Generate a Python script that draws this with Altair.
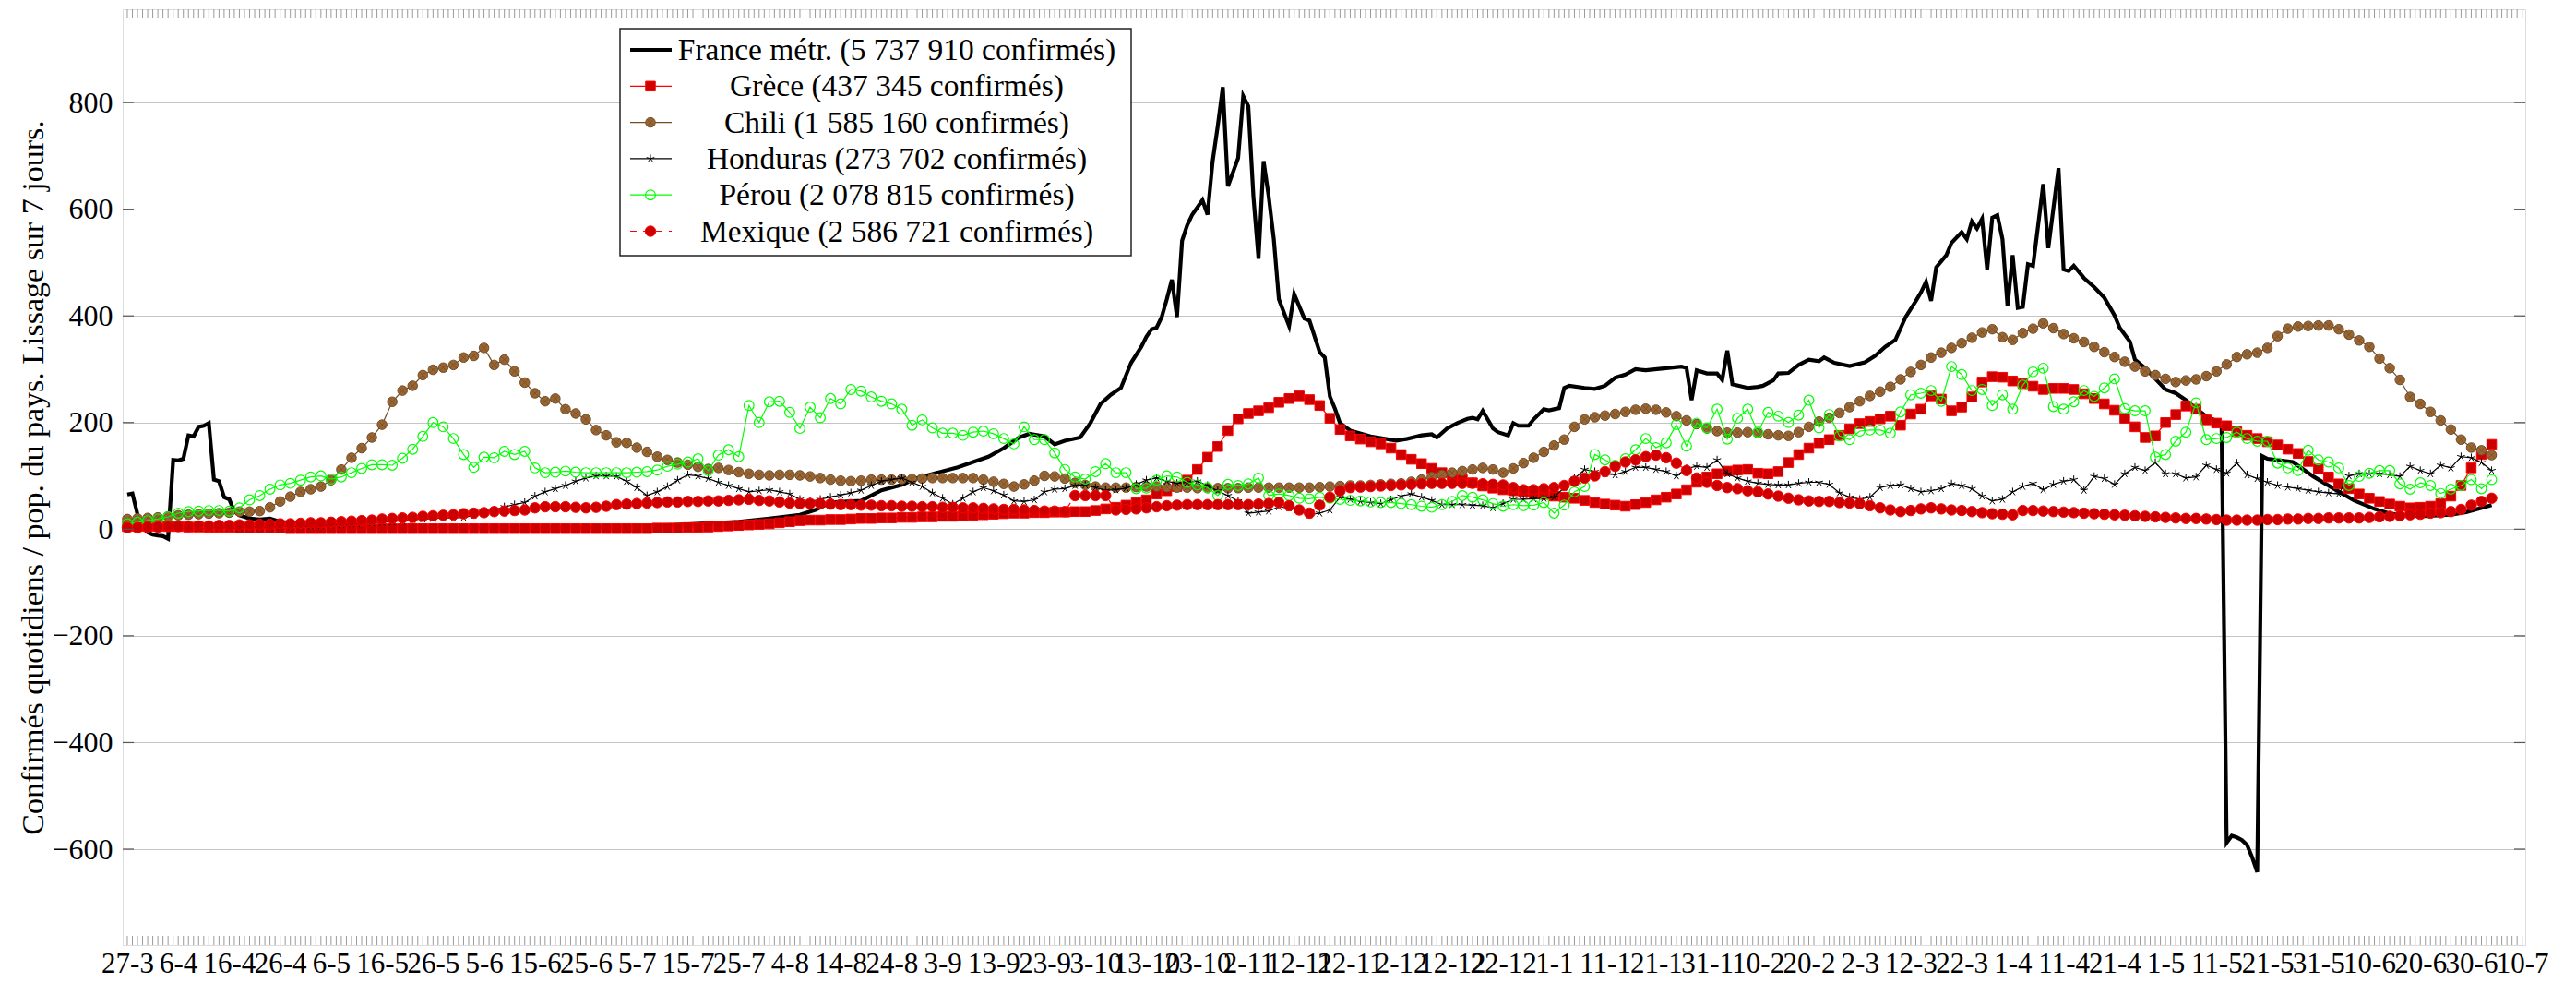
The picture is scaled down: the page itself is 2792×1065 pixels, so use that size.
import altair as alt
import pandas as pd

# ---------------- data ----------------
# marker series: one value every 2 days, day 0 = 27-3
days = list(range(0, 465, 2))

grece = [5,5,5,5,5,5,4,4,3,3,
         3,2,2,2,2,2,1,1,1,1,
         1,1,1,1,1,1,1,1,1,1,
         1,1,1,1,1,1,1,1,1,1,
         1,1,1,1,1,1,1,1,1,1,
         1,1,2,2,2,3,3,4,5,6,
         7,8,9,10,12,14,16,17,17,18,
         18,19,20,20,21,21,22,22,23,23,
         24,24,25,26,27,28,29,30,30,31,
         31,32,32,33,33,35,38,41,45,50,
         55,66,72,80,92,112,135,155,185,207,
         217,222,228,238,245,250,243,232,208,187,
         175,169,164,160,152,140,131,123,114,106,
         99,93,87,81,77,74,72,70,68,65,
         62,60,58,54,50,47,45,43,46,50,
         55,60,66,74,88,98,104,109,111,112,
         105,104,108,125,140,152,162,168,176,188,
         198,202,207,212,195,216,225,250,244,222,
         229,248,276,286,285,278,273,268,262,264,
         264,262,254,245,235,223,208,192,172,175,
         200,215,231,225,205,199,194,183,176,170,
         164,158,150,142,127,113,98,85,76,66,
         58,52,47,43,40,41,43,48,62,82,
         115,140,159]

chili = [19,20,21,22,24,26,27,28,29,30,
         31,33,33,34,41,52,61,70,75,80,
         92,112,134,152,172,196,239,260,269,289,
         299,303,308,322,325,340,308,318,296,275,
         255,240,245,225,217,206,186,176,163,162,
         153,145,136,130,125,121,117,113,115,111,
         107,104,102,101,102,102,101,99,96,93,
         91,90,91,93,93,93,94,94,95,96,
         96,96,96,96,93,89,85,80,84,91,
         100,99,95,87,83,80,78,78,78,79,
         80,80,79,78,78,77,77,77,77,77,
         78,78,78,78,78,78,78,79,80,81,
         82,82,83,84,85,86,89,93,98,102,
         106,109,112,115,112,106,114,124,134,145,
         157,168,192,206,210,213,216,220,224,226,
         224,219,212,204,197,189,184,181,181,182,
         180,178,176,175,182,192,202,209,218,229,
         240,250,258,267,281,295,308,322,331,340,
         349,359,369,375,360,355,368,376,386,377,
         366,358,351,342,332,323,314,305,296,289,
         282,276,279,281,287,296,309,323,328,331,
         340,362,376,380,381,382,382,375,365,354,
         342,320,302,280,248,235,220,204,187,168,
         153,148,139]

honduras = [1,1,1,2,2,2,2,2,3,3,
            3,3,4,4,4,5,5,6,6,7,
            8,9,10,11,12,13,14,16,18,19,
            20,21,21,22,26,30,36,42,46,50,
            62,70,76,82,90,96,100,100,99,90,
            78,63,70,80,92,102,100,95,88,82,
            76,70,72,74,70,66,56,52,56,60,
            64,68,73,82,90,93,96,88,80,68,
            58,47,58,70,78,72,64,53,52,55,
            70,75,76,82,83,78,73,74,77,84,
            92,96,90,86,88,90,82,72,63,53,
            30,32,34,42,40,34,27,30,36,60,
            56,52,50,48,55,62,66,60,54,46,
            46,46,45,44,40,48,56,56,57,58,
            60,78,95,112,108,104,102,108,116,116,
            112,108,100,114,118,116,130,104,96,90,
            86,84,83,83,86,88,88,84,68,60,
            56,60,78,82,83,76,70,72,76,85,
            82,76,62,53,56,70,80,86,74,84,
            90,93,73,99,95,84,104,116,110,125,
            104,104,96,98,120,112,105,124,102,95,
            88,82,79,76,73,70,68,66,100,104,
            104,104,102,99,118,110,104,120,115,136,
            134,125,110]

perou = [10,13,16,19,23,30,33,34,35,35,
         34,40,55,63,75,83,86,92,98,100,
         94,98,106,114,121,121,120,133,150,174,
         200,192,170,140,116,135,134,146,140,146,
         115,106,107,109,107,106,106,106,106,106,
         107,108,111,118,122,126,132,110,139,149,
         136,232,200,239,240,219,189,229,209,245,
         235,262,259,248,240,235,225,195,205,190,
         180,180,176,182,184,179,170,160,192,168,
         168,143,112,98,94,108,123,106,106,76,
         77,92,100,98,88,83,78,63,84,82,
         85,96,63,66,63,58,57,60,58,56,
         54,53,51,50,50,48,46,43,41,46,
         52,63,60,55,48,43,46,44,45,50,
         30,45,70,80,140,130,120,132,149,170,
         153,162,196,156,199,190,225,169,208,225,
         182,219,212,200,214,242,190,215,175,168,
         184,186,186,180,220,252,255,260,240,305,
         290,260,262,232,252,225,270,295,302,230,
         225,239,260,249,265,282,226,222,222,135,
         140,165,182,237,168,170,172,182,170,165,
         165,124,115,110,148,130,126,115,82,99,
         105,110,110,85,75,87,82,67,75,82,
         93,76,93]

mexique = [3,3,4,4,5,5,5,6,6,7,
           7,8,8,9,9,10,10,11,12,12,
           13,14,15,16,17,19,20,21,22,24,
           25,26,27,29,30,31,33,34,35,36,
           40,42,42,42,41,40,41,43,46,47,
           48,49,50,51,51,52,52,53,53,54,
           55,56,54,53,51,49,48,48,48,47,
           46,46,45,45,44,44,43,43,42,42,
           41,41,40,40,39,38,37,37,36,35,
           34,34,33,63,63,63,63,36,37,38,
           40,42,44,45,46,46,46,46,46,46,
           46,47,48,50,44,36,30,45,60,72,
           78,79,80,81,82,83,84,85,86,86,
           86,86,86,85,84,83,78,74,74,76,
           78,82,90,96,100,108,118,126,130,136,
           139,134,124,110,96,88,82,78,76,72,
           70,66,62,58,55,53,52,52,50,49,
           48,44,40,36,33,35,38,40,38,36,
           35,33,31,29,28,27,35,35,34,33,
           32,31,30,29,28,27,26,25,24,23,
           22,21,20,20,19,18,17,17,17,17,
           18,18,19,19,20,20,21,21,21,21,
           22,23,24,25,27,28,30,31,33,37,
           45,52,58]

# France: (day, value)
france_points = [
    (0,65),(1,67),(2,28),(3,4),(4,-6),(5,-10),(6,-12),(7,-13),(8,-18),(9,130),
    (10,129),(11,132),(12,176),(13,174),(14,192),(15,194),(16,199),(17,93),(18,90),
    (19,60),(20,56),(21,33),(22,26),(24,20),(26,18),(28,20),(30,14),(34,10),(40,7),
    (50,5),(60,4),(70,3),(85,3),(95,5),(105,7),(110,9),(120,14),(126,20),(132,27),
    (135,36),(138,50),(144,53),(146,63),(148,73),(152,83),(155,96),(159,106),
    (163,116),(166,126),(169,136),(172,152),(175,172),(177,179),(180,174),(182,159),
    (184,166),(187,172),(189,199),(191,235),(193,252),(195,265),(197,312),(199,342),
    (200,361),(201,375),(202,378),(203,398),(204,431),(205,468),(206,398),(207,541),
    (208,570),(209,590),(211,617),(212,590),(213,690),(214,756),(215,829),(216,643),
    (218,696),(219,812),(220,793),(221,624),(222,507),(223,690),(224,624),(225,544),
    (226,431),(228,381),(229,441),(230,418),(231,395),(232,391),(234,332),(235,322),
    (236,249),(237,226),(238,199),(240,185),(244,174),(249,166),(251,169),(254,176),
    (256,178),(257,172),(259,189),(261,199),(263,207),(264,209),(265,206),(266,222),
    (268,189),(269,182),(271,176),(272,199),(273,194),(275,194),(276,206),(278,225),
    (279,223),(281,227),(282,265),(283,269),(286,265),(288,263),(290,269),(292,284),
    (294,290),(296,300),(298,298),(302,302),(305,305),(306,302),(307,242),(308,298),
    (310,292),(312,292),(313,280),(314,335),(315,272),(318,265),(320,267),(321,269),
    (323,279),(324,292),(326,293),(328,308),(330,318),(332,315),(333,322),(335,312),
    (338,306),(341,313),(343,325),(345,342),(347,355),(349,398),(351,428),(352,444),
    (353,464),(354,428),(355,491),(357,514),(358,537),(360,557),(361,544),(362,577),
    (363,564),(364,582),(365,487),(366,584),(367,589),(368,544),(369,418),(370,514),
    (371,415),(372,417),(373,497),(374,494),(375,570),(376,647),(377,527),(379,677),
    (380,487),(381,484),(382,494),(384,471),(386,454),(388,434),(390,401),(391,378),
    (393,352),(394,318),(396,302),(398,282),(400,262),(402,255),(404,242),(406,226),
    (408,212),(411,198),(412,-588),(413,-575),(414,-578),(415,-583),(416,-592),
    (417,-615),(418,-643),(419,137),(420,132),(425,126),(429,99),(433,76),(437,54),
    (441,38),(444,29),(450,24),(456,27),(459,32),(464,45),
]

tick_labels = ["27-3","6-4","16-4","26-4","6-5","16-5","26-5","5-6","15-6","25-6",
               "5-7","15-7","25-7","4-8","14-8","24-8","3-9","13-9","23-9","3-10",
               "13-10","23-10","2-11","12-11","22-11","2-12","12-12","22-12","1-1","11-1",
               "21-1","31-1","10-2","20-2","2-3","12-3","22-3","1-4","11-4","21-4",
               "1-5","11-5","21-5","31-5","10-6","20-6","30-6","10-7"]
y_ticks = [-600, -400, -200, 0, 200, 400, 600, 800]

legend_labels = ["France métr. (5 737 910 confirmés)",
                 "Grèce (437 345 confirmés)",
                 "Chili (1 585 160 confirmés)",
                 "Honduras (273 702 confirmés)",
                 "Pérou (2 078 815 confirmés)",
                 "Mexique (2 586 721 confirmés)"]

# ---------------- chart ----------------
W, H = 2604, 1014
FONT = "Liberation Serif"
FS = 31

xs = alt.Scale(domain=[-0.9, 470.6], nice=False, zero=False)
ys = alt.Scale(domain=[-780, 975], nice=False, zero=False)

label_expr = "[" + ",".join("'%s'" % t for t in tick_labels) + "][round(datum.value/10)]"
x_axis = alt.Axis(values=list(range(0, 471, 10)), labelExpr=label_expr, ticks=False,
                  domain=False, grid=False, labelFont=FONT, labelFontSize=FS,
                  labelColor="black", labelPadding=5, labelOverlap=False,
                  labelFlush=False, title=None)
y_axis = alt.Axis(values=y_ticks, format="d", ticks=False, domain=False, grid=True,
                  gridColor="#c4c4c4", gridWidth=1, labelFont=FONT, labelFontSize=32,
                  labelColor="black", labelPadding=11,
                  title="Confirmés quotidiens / pop. du pays. Lissage sur 7 jours.",
                  titleFont=FONT, titleFontSize=34, titleFontWeight="normal",
                  titleColor="black", titlePadding=2)

X = alt.X("day:Q", scale=xs, axis=x_axis)
Y = alt.Y("v:Q", scale=ys, axis=y_axis)

STAR = "M0,0L0,-1M0,0L-0.951,-0.309M0,0L-0.588,0.809M0,0L0.588,0.809M0,0L0.951,-0.309"
XMARK = "M-0.7,-0.7L0.7,0.7M-0.7,0.7L0.7,-0.7"

fr_df = pd.DataFrame(france_points, columns=["day", "v"])
layers = [alt.Chart(fr_df).mark_line(color="black", strokeWidth=4.2).encode(x=X, y=Y)]

def sdf(vals):
    return pd.DataFrame({"day": days, "v": vals})

# Grèce
g = alt.Chart(sdf(grece))
layers += [g.mark_line(color="#ff0000", strokeWidth=1.2).encode(x=X, y=Y),
           g.mark_point(shape="square", filled=True, fill="#cc0000", stroke="#ff0000",
                        strokeWidth=1, size=110, opacity=1).encode(x=X, y=Y)]
# Chili
c = alt.Chart(sdf(chili))
layers += [c.mark_line(color="#734d26", strokeWidth=1.2).encode(x=X, y=Y),
           c.mark_point(shape="circle", filled=True, fill="#996633", stroke="#734d26",
                        strokeWidth=1, size=110, opacity=1).encode(x=X, y=Y),
           c.mark_point(shape=XMARK, filled=False, stroke="#734d26", strokeWidth=0.8,
                        size=110, opacity=1).encode(x=X, y=Y)]
# Honduras
h = alt.Chart(sdf(honduras))
layers += [h.mark_line(color="black", strokeWidth=1.2).encode(x=X, y=Y),
           h.mark_point(shape=STAR, filled=False, stroke="black", strokeWidth=1,
                        size=80, opacity=1).encode(x=X, y=Y)]
# Pérou
p = alt.Chart(sdf(perou))
layers += [p.mark_line(color="#00ff00", strokeWidth=1.2).encode(x=X, y=Y),
           p.mark_point(shape="circle", filled=False, stroke="#00ff00", strokeWidth=1.2,
                        size=115, opacity=1).encode(x=X, y=Y)]
# Mexique
m = alt.Chart(sdf(mexique))
layers += [m.mark_line(color="#ff0000", strokeWidth=1.2, strokeDash=[7, 7]).encode(x=X, y=Y),
           m.mark_point(shape="circle", filled=True, fill="#cc0000", stroke="#ff0000",
                        strokeWidth=1, size=130, opacity=1).encode(x=X, y=Y)]

# inside ticks: daily minor ticks top & bottom, major ticks left & right
tk = alt.Chart(pd.DataFrame({"day": list(range(0, 471))}))
layers += [tk.mark_rule(color="#9a9a9a", strokeWidth=1).encode(x=X, y=alt.value(0), y2=alt.value(10)),
           tk.mark_rule(color="#9a9a9a", strokeWidth=1).encode(x=X, y=alt.value(H - 10), y2=alt.value(H))]
yt = alt.Chart(pd.DataFrame({"v": y_ticks}))
layers += [yt.mark_rule(color="#555555", strokeWidth=1.2).encode(y=Y, x=alt.value(0), x2=alt.value(12)),
           yt.mark_rule(color="#555555", strokeWidth=1.2).encode(y=Y, x=alt.value(W - 12), x2=alt.value(W))]

# legend (manual, pgfplots style)
one = alt.Chart(pd.DataFrame({"a": [0]}))
LX0, LX1, LY0, LY1 = 539, 1093, 21, 267
layers.append(one.mark_rect(fill="white", stroke="#222222", strokeWidth=1.5).encode(
    x=alt.value(LX0), x2=alt.value(LX1), y=alt.value(LY0), y2=alt.value(LY1)))

line_styles = [
    dict(color="black", strokeWidth=4.2),
    dict(color="#ff0000", strokeWidth=1.2),
    dict(color="#734d26", strokeWidth=1.2),
    dict(color="black", strokeWidth=1.2),
    dict(color="#00ff00", strokeWidth=1.2),
    dict(color="#ff0000", strokeWidth=1.2, strokeDash=[7, 7]),
]
marker_styles = [
    None,
    [dict(shape="square", filled=True, fill="#cc0000", stroke="#ff0000", strokeWidth=1, size=110, opacity=1)],
    [dict(shape="circle", filled=True, fill="#996633", stroke="#734d26", strokeWidth=1, size=110, opacity=1),
     dict(shape=XMARK, filled=False, stroke="#734d26", strokeWidth=0.8, size=110, opacity=1)],
    [dict(shape=STAR, filled=False, stroke="black", strokeWidth=1, size=80, opacity=1)],
    [dict(shape="circle", filled=False, stroke="#00ff00", strokeWidth=1.2, size=115, opacity=1)],
    [dict(shape="circle", filled=True, fill="#cc0000", stroke="#ff0000", strokeWidth=1, size=130, opacity=1)],
]
for i, lab in enumerate(legend_labels):
    yy = 44 + 39.3 * i
    layers.append(one.mark_rule(**line_styles[i]).encode(
        x=alt.value(550), x2=alt.value(595), y=alt.value(yy)))
    if marker_styles[i]:
        for ms in marker_styles[i]:
            layers.append(one.mark_point(**ms).encode(x=alt.value(572), y=alt.value(yy)))
    layers.append(alt.Chart(pd.DataFrame({"t": [lab]})).mark_text(
        align="center", baseline="middle", font=FONT, fontSize=33.5, color="black").encode(
        x=alt.value(839), y=alt.value(yy + 1), text="t:N"))

chart = alt.layer(*layers).properties(
    width=W, height=H,
    autosize=alt.AutoSizeParams(type="none"),
    padding={"left": 125, "top": 2, "right": 40, "bottom": 40},
).configure_view(stroke="black", strokeWidth=1.5).configure(background="white")

chart.save("out.html", embed_options={"renderer": "svg", "actions": False})
